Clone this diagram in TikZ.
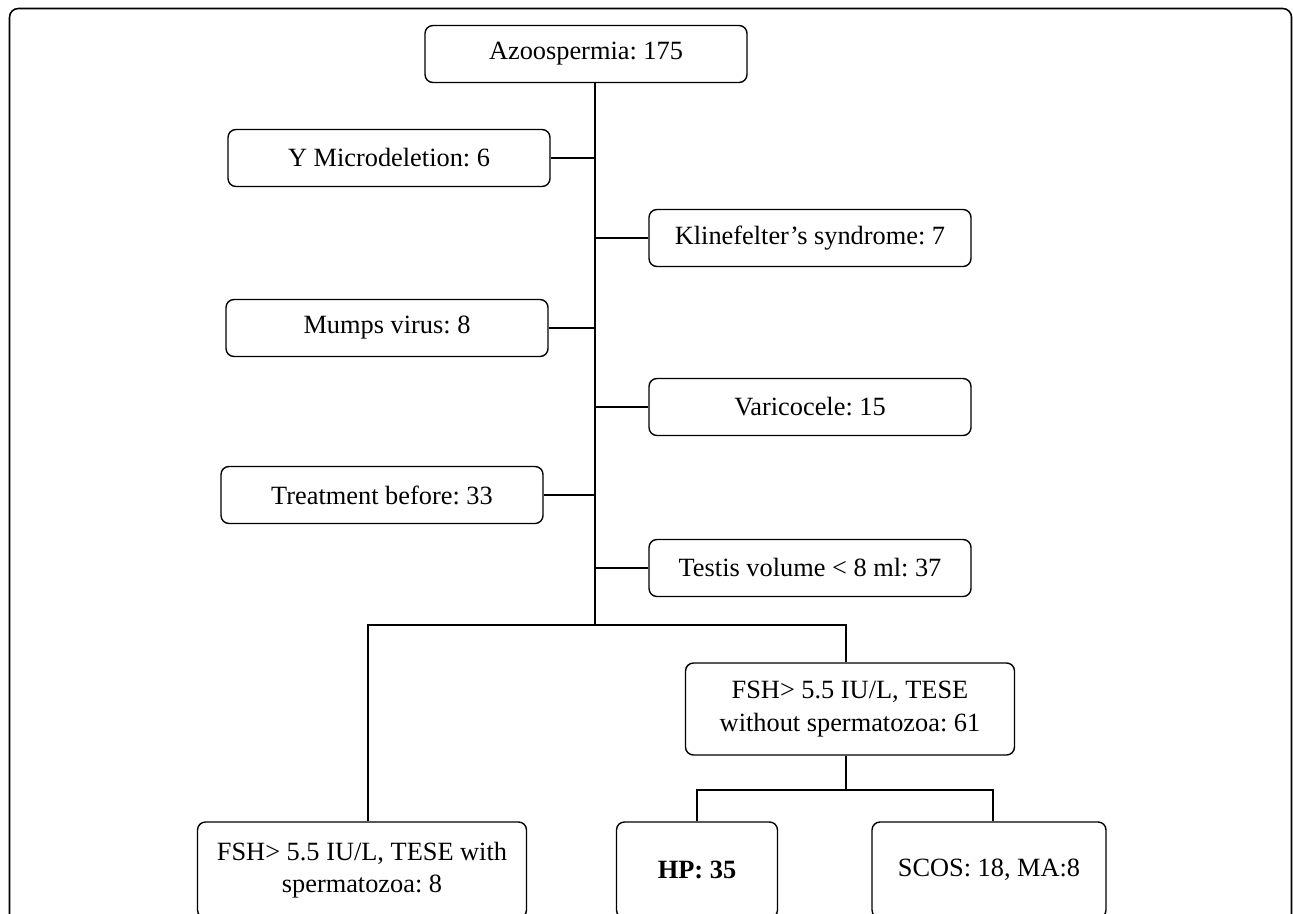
\documentclass[tikz,border=0pt]{standalone}
\usepackage{fontspec}
\setmainfont{Liberation Serif}
\usepackage{tikz}
\usetikzlibrary{positioning,calc}
\tikzstyle{box} = [rectangle, rounded corners=4.5pt, minimum width=6.44cm, minimum height=1.14cm, text centered, draw=black, line width=0.8pt, font=\fontsize{15}{18.5}\selectfont\frenchspacing]
\tikzstyle{bigbox} = [box, minimum width=6.58cm, minimum height=1.84cm, align=center]
\tikzstyle{link} = [line width=0.8pt]

\begin{document}
\begin{tikzpicture}[x=0.02cm, y=-0.02cm]
      \useasboundingbox (0,0) rectangle (1293,913);
      \clip (0,0) rectangle (1293,913);
      % outer frame
      \draw [line width=0.9pt, rounded corners=5pt] (9.5,8.5) rectangle (1291.5,960);
      \node (azo)[box] at (586,54) {Azoospermia: 175};
      \node (ymic)[box] at (389,158) {Y Microdeletion: 6};
      \node (klin)[box] at (810,238) {Klinefelter’s syndrome: 7};
      \node (mumps)[box] at (387,328) {Mumps virus: 8};
      \node (vari)[box] at (810,407) {Varicocele: 15};
      \node (treat)[box] at (382,495) {Treatment before: 33};
      \node (testis)[box] at (810,568) {Testis volume < 8 ml: 37};
      \node (fshno)[bigbox] at (850,709) {FSH> 5.5 IU/L, TESE\\without spermatozoa: 61};
      \node (fshyes)[bigbox, minimum height=1.92cm] at (362,870) {FSH> 5.5 IU/L, TESE with\\spermatozoa: 8};
      \node (hp)[bigbox, minimum width=3.22cm, minimum height=1.92cm] at (697,870) {\textbf{HP: 35}};
      \node (scos)[bigbox, minimum width=4.68cm, minimum height=1.92cm] at (989,870) {SCOS: 18, MA:8};
      % trunk and splits
      \coordinate (tbot) at (595,625);
      \coordinate (sl) at (368,625);
      \coordinate (sr) at (846,625);
      \coordinate (s2m) at (846,790);
      \coordinate (s2l) at (697,790);
      \coordinate (s2r) at (993,790);
      \draw [link](azo.south -| tbot)--(tbot);
      \draw [link](ymic.east)--(ymic.east -| tbot);
      \draw [link](klin.west)--(klin.west -| tbot);
      \draw [link](mumps.east)--(mumps.east -| tbot);
      \draw [link](vari.west)--(vari.west -| tbot);
      \draw [link](treat.east)--(treat.east -| tbot);
      \draw [link](testis.west)--(testis.west -| tbot);
      \draw [link](sl |- fshyes.north)--(sl)--(sr)--(sr |- fshno.north);
      \draw [link](s2m |- fshno.south)--(s2m);
      \draw [link](hp.north)--(s2l)--(s2r)--(s2r |- scos.north);
    \end{tikzpicture}
\end{document}
